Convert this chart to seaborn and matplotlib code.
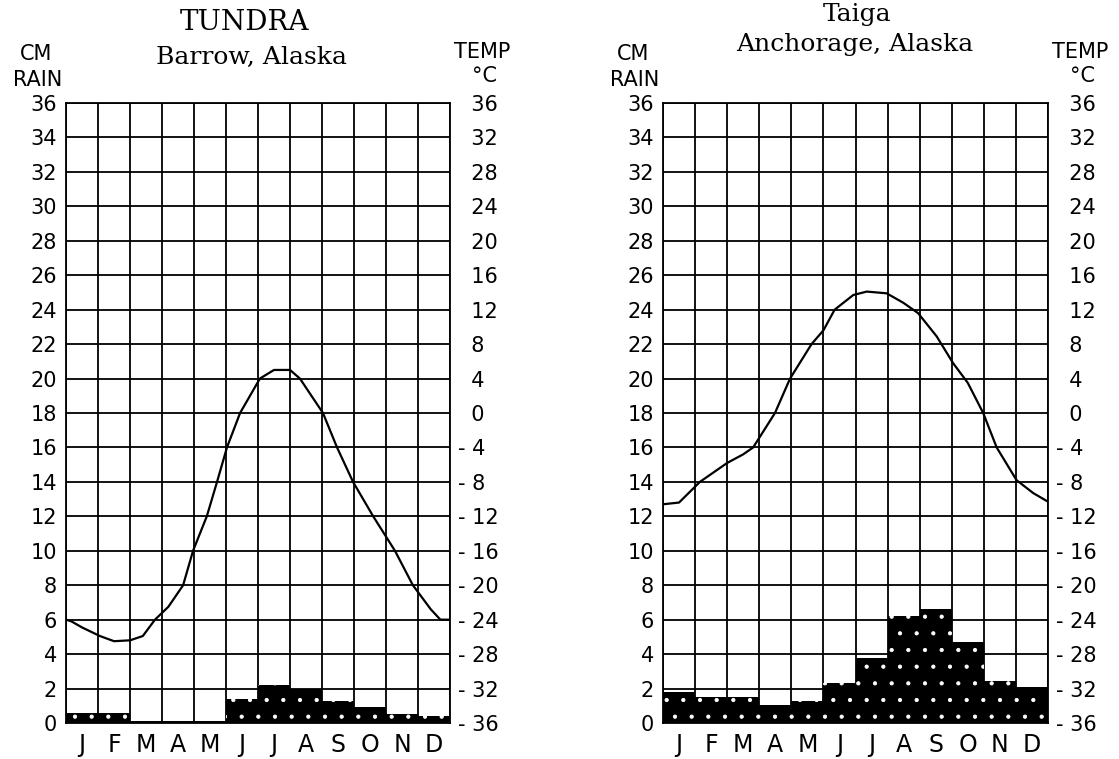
import numpy as np
import matplotlib
matplotlib.use("Agg")
import matplotlib.pyplot as plt
import seaborn as sns

MONTHS = ["J", "F", "M", "A", "M", "J", "J", "A", "S", "O", "N", "D"]

# monthly rainfall (cm)
TUNDRA_RAIN = [0.6, 0.6, 0.1, 0.1, 0.1, 1.4, 2.2, 2.0, 1.25, 0.95, 0.55, 0.4]
TAIGA_RAIN = [1.8, 1.5, 1.5, 1.05, 1.3, 2.3, 3.8, 6.2, 6.6, 4.7, 2.45, 2.1]

# temperature curves (x = months since start of Jan)
TUNDRA_T_X = [0.0, 0.17, 0.5, 1.06, 1.5, 2.0, 2.4, 2.78, 3.2, 3.66, 3.97, 4.4,
              4.72, 5.03, 5.44, 6.06, 6.5, 7.0, 7.31, 8.03, 8.47, 8.97, 9.6,
              10.28, 10.84, 11.4, 11.7, 12.0]
TUNDRA_T = [-24.0, -24.2, -24.9, -25.9, -26.5, -26.4, -25.9, -24.0, -22.5, -20.0,
            -16.0, -12.0, -8.0, -4.0, 0.0, 4.0, 5.0, 5.0, 4.0, 0.0, -4.0, -8.0,
            -12.0, -16.0, -20.0, -22.8, -24.0, -24.0]

TAIGA_T_X = [0.0, 0.5, 1.15, 2.0, 2.5, 2.81, 3.49, 3.96, 4.63, 5.0, 5.35, 5.93,
             6.35, 6.97, 7.49, 7.95, 8.53, 9.04, 9.5, 9.98, 10.4, 11.02, 11.54, 12.0]
TAIGA_T = [-10.6, -10.4, -8.0, -5.8, -4.8, -4.0, 0.0, 4.0, 8.0, 9.6, 12.0, 13.7,
           14.1, 13.9, 12.8, 11.6, 8.9, 5.8, 3.5, 0.0, -4.0, -7.8, -9.3, -10.3]

RAIN_TICKS = list(range(0, 37, 2))
TEMP_TICKS = list(range(36, -37, -4))

W, H = 1119, 759

sns.set_style("white")
plt.rcParams["font.family"] = ["DejaVu Sans"]
plt.rcParams["hatch.linewidth"] = 0.6
plt.rcParams["text.color"] = "black"
plt.rcParams["xtick.color"] = "black"
plt.rcParams["ytick.color"] = "black"
plt.rcParams["axes.labelcolor"] = "black"


def px(x, y):
    """pixel position -> figure fraction"""
    return x / W, 1 - y / H


def panel(fig, left_px, right_px, rain, tx, temp):
    x0, _ = px(left_px, 0)
    x1, _ = px(right_px, 0)
    _, y0 = px(0, 723)
    _, y1 = px(0, 103)
    ax = fig.add_axes([x0, y0, x1 - x0, y1 - y0])

    sns.barplot(x=list(range(12)), y=rain, color="black", width=1.0,
                saturation=1, errorbar=None, ax=ax)
    for bar in ax.patches:
        bar.set_hatch(".")
        bar.set_edgecolor("white")
        bar.set_linewidth(0)

    ax.set_xlim(-0.5, 11.5)
    ax.set_ylim(0, 36)
    ax.set_yticks(RAIN_TICKS)
    ax.set_yticklabels([str(v) for v in RAIN_TICKS])
    ax.set_xticks(range(12))
    ax.set_xticklabels(MONTHS)
    ax.set_xticks(np.arange(-0.5, 12, 1), minor=True)
    ax.grid(True, which="minor", axis="x", color="black", lw=1.3)
    ax.grid(True, which="major", axis="y", color="black", lw=1.3)
    ax.grid(False, which="major", axis="x")
    ax.set_axisbelow(True)
    ax.tick_params(which="both", length=0)
    ax.tick_params(axis="y", labelsize=15, pad=6.5)
    ax.tick_params(axis="x", labelsize=17, pad=7)
    ax.set_xlabel("")
    ax.set_ylabel("")
    for s in ax.spines.values():
        s.set_color("black")
        s.set_linewidth(1.3)

    ax2 = ax.twinx()
    sns.lineplot(x=np.array(tx) - 0.5, y=temp, ax=ax2, color="black", lw=1.6,
                 estimator=None, sort=False)
    ax2.set_ylim(-36, 36)
    ax2.set_yticks(TEMP_TICKS)
    ax2.set_yticklabels([("- " + str(-t)) if t < 0 else ("  " + str(t))
                         for t in TEMP_TICKS])
    ax2.tick_params(length=0, labelsize=15, pad=5.5)
    ax2.set_ylabel("")
    for s in ax2.spines.values():
        s.set_visible(False)
    return ax


fig = plt.figure(figsize=(W / 100, H / 100), dpi=100)

panel(fig, 66, 450, TUNDRA_RAIN, TUNDRA_T_X, TUNDRA_T)
panel(fig, 663, 1048, TAIGA_RAIN, TAIGA_T_X, TAIGA_T)

# titles
fig.text(*px(244, 23), "TUNDRA", family="DejaVu Serif", fontsize=20,
         ha="center", va="center")
fig.text(*px(251, 57), "Barrow, Alaska", family="DejaVu Serif", fontsize=18,
         ha="center", va="center")
fig.text(*px(857, 14), "Taiga", family="DejaVu Serif", fontsize=18,
         ha="center", va="center")
fig.text(*px(855, 45), "Anchorage, Alaska", family="DejaVu Serif", fontsize=18,
         ha="center", va="center")

# axis headers
for left, right in ((66, 450), (663, 1048)):
    fig.text(*px(left - 30, 54), "CM", fontsize=15, ha="center", va="center")
    fig.text(*px(left - 28, 80), "RAIN", fontsize=15, ha="center", va="center")
    fig.text(*px(right + 32, 52), "TEMP", fontsize=15, ha="center", va="center")
    fig.text(*px(right + 35, 76), "°C", fontsize=15, ha="center", va="center")

fig.savefig("out.png", dpi=100, facecolor="white")
